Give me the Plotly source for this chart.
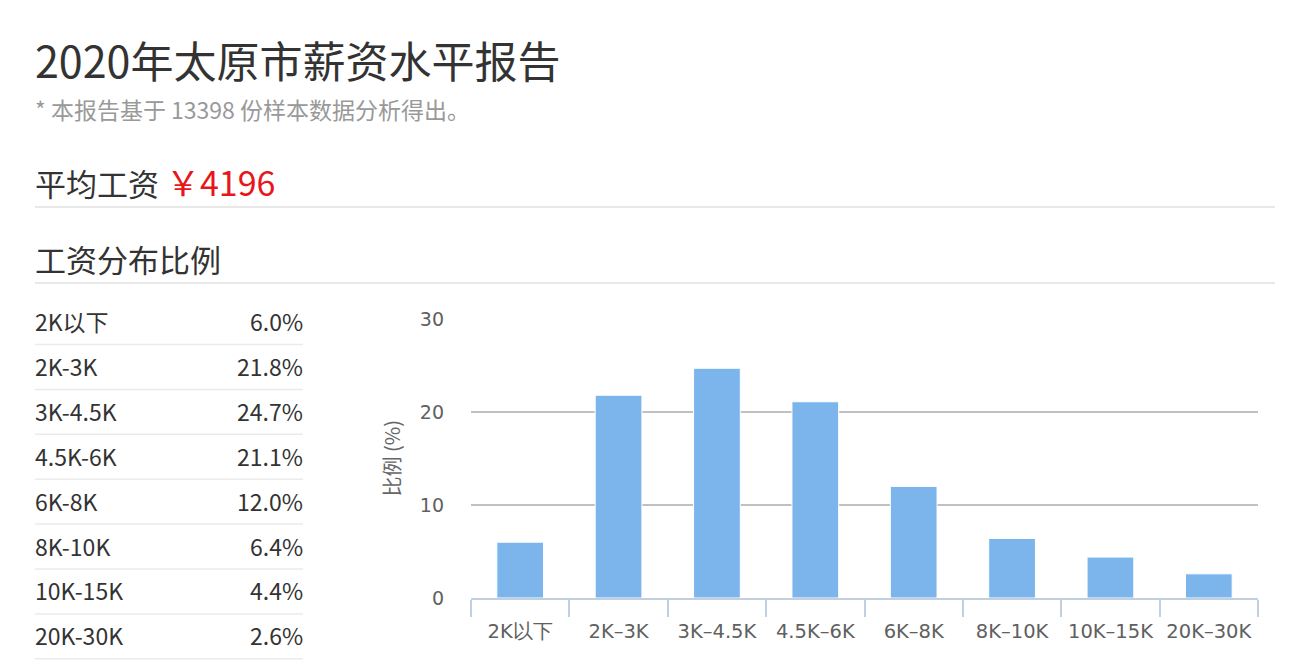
#!/usr/bin/env python3
# -*- coding: utf-8 -*-

import plotly.graph_objs as go

# DATA
city = "太原市"
year = 2020
sample_count = 13398
avg_salary = 4196
categories = ["2K以下", "2K-3K", "3K-4.5K", "4.5K-6K", "6K-8K", "8K-10K", "10K-15K", "20K-30K"]
shares = [6.0, 21.8, 24.7, 21.1, 12.0, 6.4, 4.4, 2.6]
y_ticks = [0, 10, 20, 30]

W, H = 1296, 672
CJK = "Noto Sans CJK SC"


# UTILS
def px(x):
    return x / W


def py(y):
    return 1 - y / H


def text_note(x, y, text, size, color="#333", xanchor="left"):
    return dict(x=px(x), y=py(y), xref="paper", yref="paper", text=text, showarrow=False,
                xanchor=xanchor, yanchor="middle", font=dict(family=CJK, size=size, color=color))


def hline(x0, x1, y, width=1.5, color="#e8e8e8"):
    return dict(type="line", xref="paper", yref="paper", x0=px(x0), x1=px(x1), y0=py(y), y1=py(y),
                line=dict(color=color, width=width))


annotations = [
    text_note(33, 59, "%d年%s薪资水平报告" % (year, city), 43, "#333"),
    text_note(33, 109, "* 本报告基于 %d 份样本数据分析得出。" % sample_count, 23, "#999"),
    text_note(33, 182, "平均工资 <span style='color:#e8161b;font-size:34px'>￥%d</span>" % avg_salary, 31, "#333"),
    text_note(33, 258, "工资分布比例", 31, "#333"),
]
shapes = [hline(35, 1275, 207, 2), hline(35, 1275, 283, 2)]

# table on the left
row_h = 44.9
for i, (cat, val) in enumerate(zip(categories, shares)):
    yc = 323 + i * row_h
    annotations.append(text_note(33, yc - 2, cat, 23, "#333"))
    annotations.append(text_note(305, yc - 2, "%.1f%%" % val, 23, "#333", xanchor="right"))
    shapes.append(hline(35, 303, yc + 21.5, 1.5, "#ebebeb"))

bars = go.Bar(x=categories, y=shares, marker=dict(color="#7cb5ec", line=dict(color="#ffffff", width=1)),
              hoverinfo="x+y")

fig = go.Figure(data=[bars])
fig.update_layout(
    width=W, height=H,
    margin=dict(l=0, r=0, t=0, b=0, pad=0),
    paper_bgcolor="white", plot_bgcolor="white",
    showlegend=False,
    bargap=0.525,
    annotations=annotations,
    shapes=shapes,
    xaxis=dict(domain=[px(471), px(1258)], automargin=False, showline=True, linecolor="#c0d0e0", linewidth=1.5,
               ticks="outside", tickson="boundaries", ticklen=17, tickcolor="#c0d0e0", tickwidth=1.5,
               ticklabelstandoff=15, tickvals=categories, ticktext=[c.replace("-", "–") for c in categories],
               showgrid=False, tickfont=dict(family="DejaVu Sans", size=19.5, color="#606060")),
    yaxis=dict(domain=[py(598), py(318.5)], automargin=False, range=[0, 30.05], tickvals=y_ticks, showgrid=True,
               gridcolor="#c0c0c0", gridwidth=1.5, zeroline=False, ticklabelstandoff=26,
               tickfont=dict(family="DejaVu Sans", size=19, color="#606060"),
               title=dict(text="比例 (%)", font=dict(family=CJK, size=20, color="#666"), standoff=13)),
)

# drop the default page margin so the figure sits at the window corner
page_js = "document.body.style.margin = '0px';"
fig.write_html("out.html", config={"displayModeBar": False}, post_script=page_js)
